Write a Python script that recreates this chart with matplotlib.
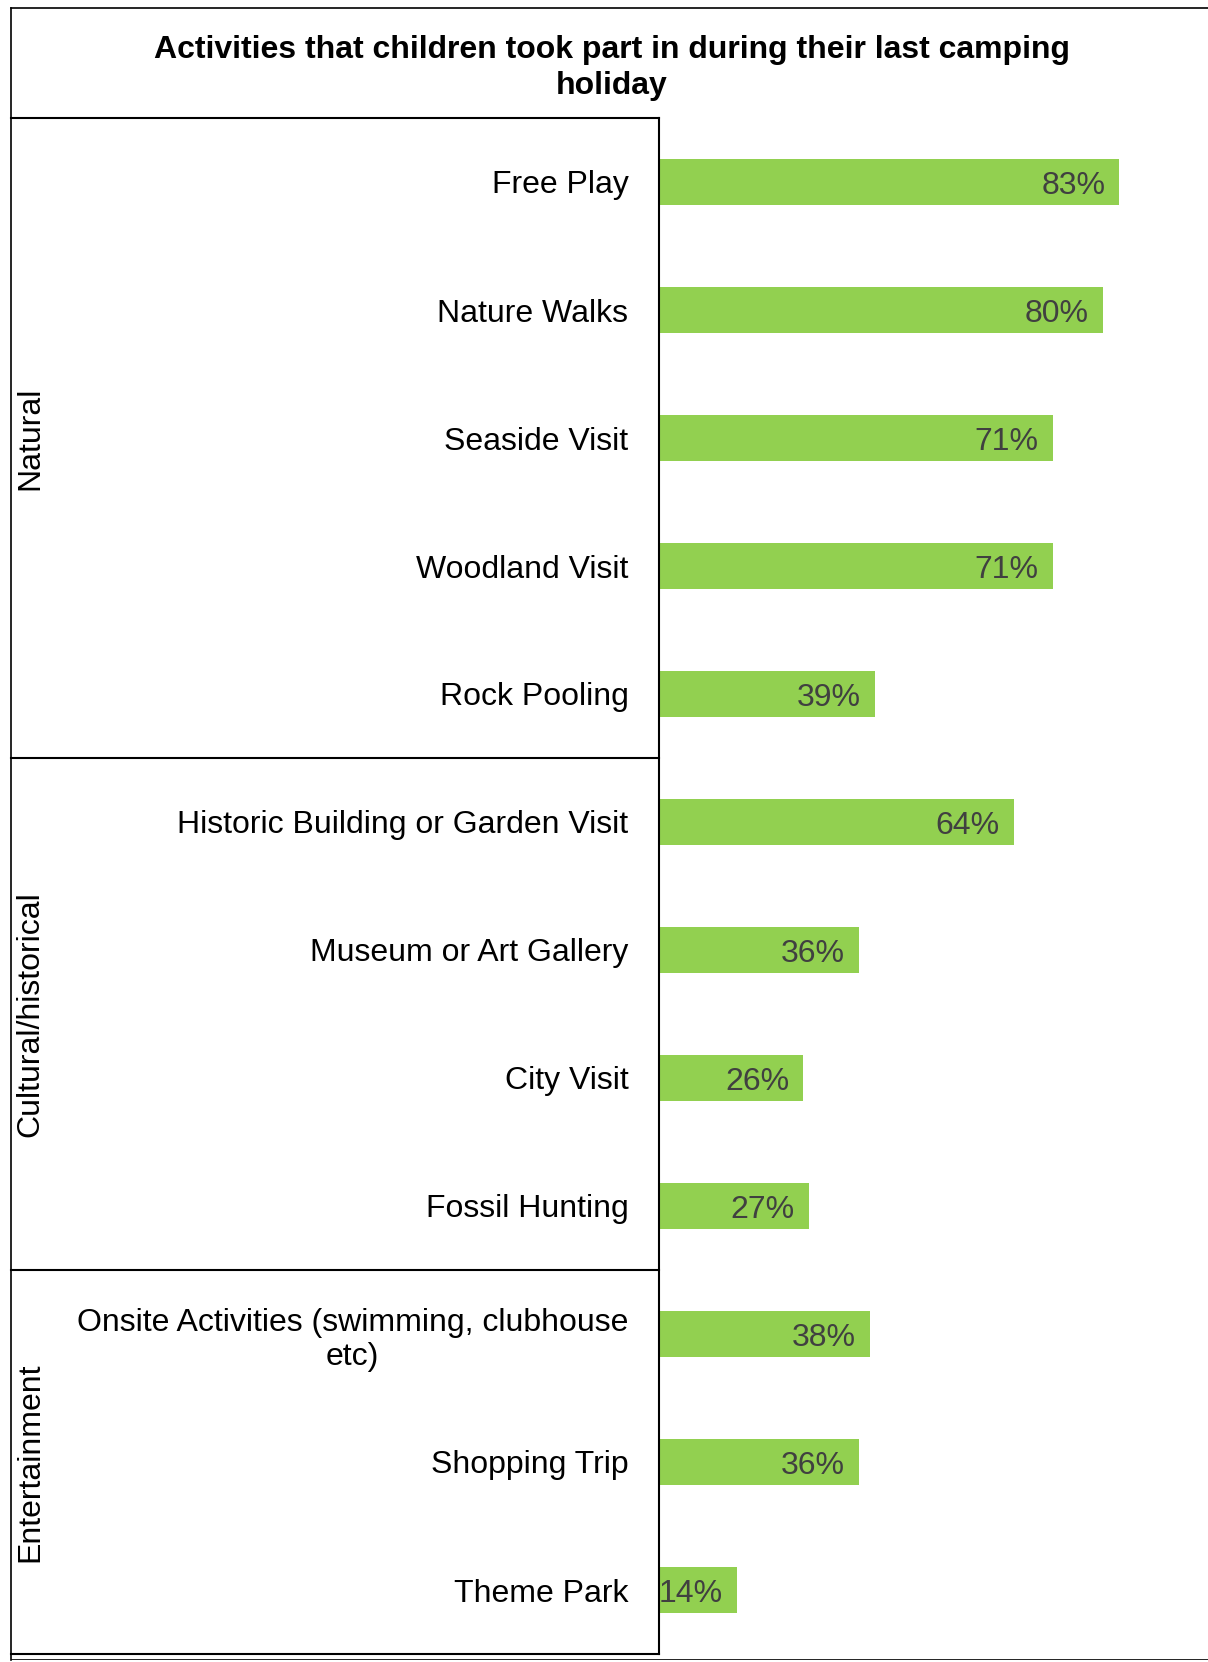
import matplotlib
matplotlib.use("Agg")
import matplotlib.pyplot as plt
from matplotlib.lines import Line2D

plt.rcParams['font.family'] = ['Liberation Sans', 'DejaVu Sans']

# Data
activities = ["Free Play", "Nature Walks", "Seaside Visit", "Woodland Visit", "Rock Pooling",
              "Historic Building or Garden Visit", "Museum or Art Gallery", "City Visit",
              "Fossil Hunting", "Onsite Activities (swimming, clubhouse\netc)",
              "Shopping Trip", "Theme Park"]
percent = [83, 80, 71, 71, 39, 64, 36, 26, 27, 38, 36, 14]
groups = ["Natural", "Cultural/historical", "Entertainment"]
group_sizes = [5, 4, 3]
title = "Activities that children took part in during their last camping\nholiday"

W, H = 1208, 1662
fig = plt.figure(figsize=(W / 100, H / 100), dpi=100)

# plot area in pixels
left, right, top, bottom = 659, 1208, 118, 1654
ax = fig.add_axes([left / W, 1 - bottom / H, (right - left) / W, (bottom - top) / H])

n = len(activities)
ypos = list(range(n))
ax.barh(ypos, percent, height=0.36, color="#92D050")
ax.set_ylim(n - 0.5, -0.5)
ax.set_xlim(0, 99)
ax.set_yticks(ypos)
ax.set_yticklabels(activities, fontsize=23, multialignment="center")
ax.tick_params(axis="y", length=0, pad=22)
ax.set_xticks([])
for s in ["top", "right", "bottom"]:
    ax.spines[s].set_visible(False)
ax.spines["left"].set_linewidth(1.5)

for y, v in zip(ypos, percent):
    ax.annotate(f"{v}%", (v, y), xytext=(-14, 0), textcoords="offset pixels",
                ha="right", va="center_baseline", fontsize=23, color="#404040")

# title
fig.text(612 / W, 1 - 68 / H, title, ha="center", va="center",
         fontsize=23, fontweight="bold", linespacing=1.3)

# frame lines (figure pixel coords)
def hline(x0, x1, y, lw=1.5):
    fig.add_artist(Line2D([x0 / W, x1 / W], [1 - y / H, 1 - y / H], color="black", lw=lw))

def vline(x, y0, y1, lw=1.5):
    fig.add_artist(Line2D([x / W, x / W], [1 - y0 / H, 1 - y1 / H], color="black", lw=lw))

hline(11, W, 8, lw=1.2)
vline(11, 8, 1660, lw=1.2)
hline(11, W, 1659, lw=0.6)

# group brackets
row_h = (bottom - top) / n
y = top
hline(11, left, top)
for g, size in zip(groups, group_sizes):
    y_end = y + size * row_h
    hline(11, left, y_end)
    fig.text(30 / W, 1 - (y + y_end) / 2 / H, g, rotation=90, ha="center", va="center",
             fontsize=23)
    y = y_end

fig.savefig("out.png", dpi=100)
